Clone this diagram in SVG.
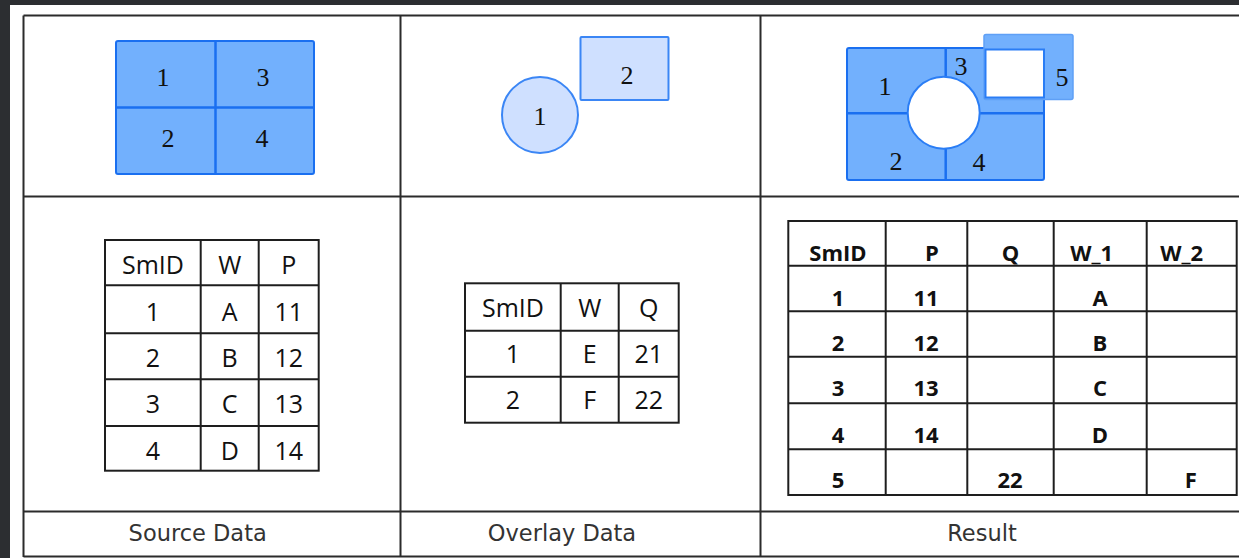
<svg xmlns="http://www.w3.org/2000/svg" width="1239" height="558" viewBox="0 0 1239 558">
<style>
.grid{stroke:#2b2b2b;stroke-width:2;fill:none}
.tbl{stroke:#1e1e1e;stroke-width:2;fill:#fff}
.tl{stroke:#1e1e1e;stroke-width:2}
.lab{font-family:"Liberation Serif",serif;font-size:26px;fill:#111;text-anchor:middle}
.t{font-family:"Open Sans","Liberation Sans",sans-serif;font-size:25px;fill:#111;text-anchor:middle}
.tb{font-family:"Open Sans","Liberation Sans",sans-serif;font-size:22px;font-weight:700;fill:#111;text-anchor:middle}
.cap{font-family:"DejaVu Sans",sans-serif;font-size:22.5px;fill:#333;text-anchor:middle}
.blue{fill:#72b0fd;stroke:#1a6ff0;stroke-width:2}
.light{fill:#cfe0ff;stroke:#3b86f5;stroke-width:2}
.div{stroke:#1a6ff0;stroke-width:2.5;fill:none}
</style>
<rect x="0" y="0" width="1239" height="558" fill="#2c2e31"/>
<rect x="10" y="5" width="1229" height="553" fill="#ffffff"/>

<g id="grid">
<line class="grid" x1="23.5" y1="15.5" x2="1239" y2="15.5"/>
<line class="grid" x1="23.5" y1="196.5" x2="1239" y2="196.5"/>
<line class="grid" x1="23.5" y1="511.5" x2="1239" y2="511.5"/>
<line class="grid" x1="23.5" y1="556.5" x2="1239" y2="556.5"/>
<line class="grid" x1="23.5" y1="15.5" x2="23.5" y2="557"/>
<line class="grid" x1="400.5" y1="15.5" x2="400.5" y2="557"/>
<line class="grid" x1="760.5" y1="15.5" x2="760.5" y2="557"/>
</g>

<g id="source-shape">
<rect class="blue" x="116" y="41" width="198" height="133" rx="2"/>
<line class="div" x1="215.5" y1="41" x2="215.5" y2="174"/>
<line class="div" x1="116" y1="107.5" x2="314" y2="107.5"/>
<text class="lab" x="163" y="86">1</text>
<text class="lab" x="263" y="86">3</text>
<text class="lab" x="168" y="146.5">2</text>
<text class="lab" x="262" y="146.5">4</text>
</g>

<g id="overlay-shape">
<circle class="light" cx="540" cy="115" r="38"/>
<rect class="light" x="580.5" y="37" width="88" height="63" rx="1"/>
<text class="lab" x="540" y="125">1</text>
<text class="lab" x="627" y="83.5">2</text>
</g>

<g id="result-shape">
<rect class="blue" x="847" y="48" width="197" height="132" rx="2"/>
<rect x="984" y="34.5" width="89" height="65" rx="2" fill="#72b0fd" stroke="#5fa0f6" stroke-width="1.5"/>
<line class="div" x1="945.7" y1="48" x2="945.7" y2="180"/>
<line class="div" x1="847" y1="113.3" x2="1044" y2="113.3"/>
<rect x="985.5" y="49.5" width="58.5" height="48" fill="#fff" stroke="#2a7df5" stroke-width="2"/>
<circle cx="943.7" cy="112.7" r="36" fill="#fff" stroke="#2a7df5" stroke-width="2"/>
<text class="lab" x="885" y="95">1</text>
<text class="lab" x="961" y="75">3</text>
<text class="lab" x="1062" y="86">5</text>
<text class="lab" x="896" y="170">2</text>
<text class="lab" x="979" y="171">4</text>
</g>

<g id="source-table">
<rect class="tbl" x="105" y="240" width="213.7" height="230.7"/>
<line class="tl" x1="200.7" y1="240" x2="200.7" y2="470.7"/>
<line class="tl" x1="258.7" y1="240" x2="258.7" y2="470.7"/>
<line class="tl" x1="105" y1="285.3" x2="318.7" y2="285.3"/>
<line class="tl" x1="105" y1="333.3" x2="318.7" y2="333.3"/>
<line class="tl" x1="105" y1="379.3" x2="318.7" y2="379.3"/>
<line class="tl" x1="105" y1="426" x2="318.7" y2="426"/>
<text class="t" x="153" y="274">SmID</text>
<text class="t" x="229.7" y="274">W</text>
<text class="t" x="288.7" y="274">P</text>
<text class="t" x="153" y="320.5">1</text>
<text class="t" x="229.7" y="320.5">A</text>
<text class="t" x="288.7" y="320.5">11</text>
<text class="t" x="153" y="366.5">2</text>
<text class="t" x="229.7" y="366.5">B</text>
<text class="t" x="288.7" y="366.5">12</text>
<text class="t" x="153" y="413">3</text>
<text class="t" x="229.7" y="413">C</text>
<text class="t" x="288.7" y="413">13</text>
<text class="t" x="153" y="459.5">4</text>
<text class="t" x="229.7" y="459.5">D</text>
<text class="t" x="288.7" y="459.5">14</text>
</g>

<g id="overlay-table">
<rect class="tbl" x="465" y="283.3" width="213.7" height="139.4"/>
<line class="tl" x1="560.7" y1="283.3" x2="560.7" y2="422.7"/>
<line class="tl" x1="618.7" y1="283.3" x2="618.7" y2="422.7"/>
<line class="tl" x1="465" y1="330.7" x2="678.7" y2="330.7"/>
<line class="tl" x1="465" y1="376.7" x2="678.7" y2="376.7"/>
<text class="t" x="513" y="316.5">SmID</text>
<text class="t" x="589.7" y="316.5">W</text>
<text class="t" x="648.7" y="316.5">Q</text>
<text class="t" x="513" y="362.5">1</text>
<text class="t" x="589.7" y="362.5">E</text>
<text class="t" x="648.7" y="362.5">21</text>
<text class="t" x="513" y="408.5">2</text>
<text class="t" x="589.7" y="408.5">F</text>
<text class="t" x="648.7" y="408.5">22</text>
</g>

<g id="result-table">
<rect class="tbl" x="788.3" y="221" width="448.4" height="274"/>
<line class="tl" x1="885.7" y1="221" x2="885.7" y2="495"/>
<line class="tl" x1="967.3" y1="221" x2="967.3" y2="495"/>
<line class="tl" x1="1053.7" y1="221" x2="1053.7" y2="495"/>
<line class="tl" x1="1146.7" y1="221" x2="1146.7" y2="495"/>
<line class="tl" x1="788.3" y1="265.7" x2="1236.7" y2="265.7"/>
<line class="tl" x1="788.3" y1="311.3" x2="1236.7" y2="311.3"/>
<line class="tl" x1="788.3" y1="356.7" x2="1236.7" y2="356.7"/>
<line class="tl" x1="788.3" y1="403.3" x2="1236.7" y2="403.3"/>
<line class="tl" x1="788.3" y1="449.3" x2="1236.7" y2="449.3"/>
<text class="tb" x="838" y="260.5">SmID</text>
<text class="tb" x="932" y="260.5">P</text>
<text class="tb" x="1010.5" y="260.5">Q</text>
<text class="tb" x="1091.7" y="260.5">W_1</text>
<text class="tb" x="1181.7" y="260.5">W_2</text>
<text class="tb" x="838" y="305.5">1</text>
<text class="tb" x="926" y="305.5">11</text>
<text class="tb" x="1100" y="305.5">A</text>
<text class="tb" x="838" y="351">2</text>
<text class="tb" x="926" y="351">12</text>
<text class="tb" x="1100" y="351">B</text>
<text class="tb" x="838" y="395.5">3</text>
<text class="tb" x="926" y="395.5">13</text>
<text class="tb" x="1100" y="395.5">C</text>
<text class="tb" x="838" y="443">4</text>
<text class="tb" x="926" y="443">14</text>
<text class="tb" x="1100" y="443">D</text>
<text class="tb" x="838" y="488">5</text>
<text class="tb" x="1010" y="488">22</text>
<text class="tb" x="1190.7" y="488">F</text>
</g>

<g id="captions">
<text class="cap" x="197.7" y="541">Source Data</text>
<text class="cap" x="562" y="541">Overlay Data</text>
<text class="cap" x="982" y="541">Result</text>
</g>
</svg>
